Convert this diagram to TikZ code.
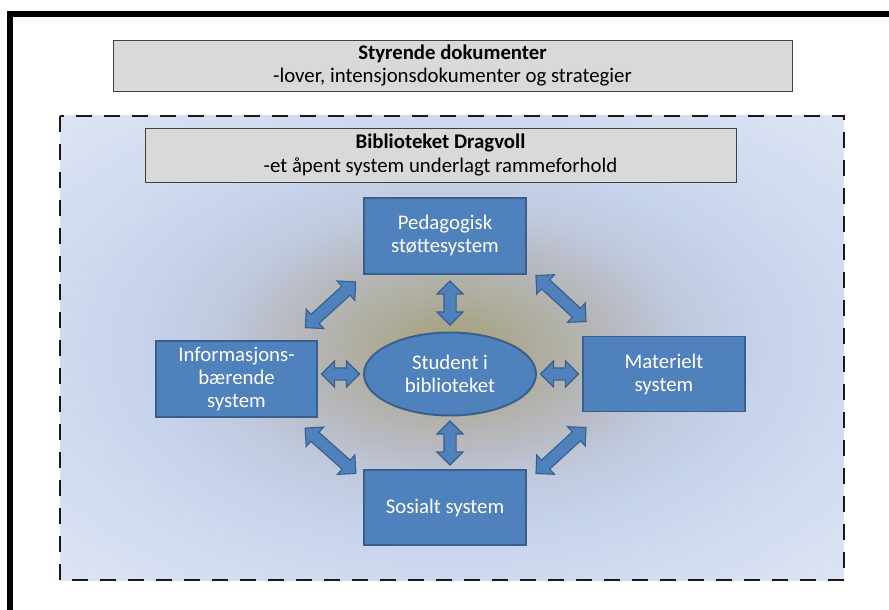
\documentclass[tikz,border=0pt]{standalone}
\usepackage{fontspec}
\setmainfont{Carlito}
\usepackage{xcolor}
\usepackage{tikz}
\usetikzlibrary{shapes.geometric, shapes.arrows, positioning}

\definecolor{sysblue}{HTML}{4F81BD}
\definecolor{sysline}{HTML}{3A5F8C}
\definecolor{docgray}{HTML}{D9D9D9}
\definecolor{glowC}{HTML}{A8A486}
\definecolor{glowG}{HTML}{B8BBC3}
\definecolor{glowM}{HTML}{C0C9DE}
\definecolor{glowB}{HTML}{C6D3EC}
\definecolor{glowL}{HTML}{D2DCF0}
\definecolor{glowE}{HTML}{DFE5F3}
\pgfdeclareradialshading{glow}{\pgfpoint{0bp}{0bp}}{color(0bp)=(glowC); color(2bp)=(glowC); color(11bp)=(glowG); color(15bp)=(glowM); color(20bp)=(glowB); color(27bp)=(glowL); color(37bp)=(glowE); color(100bp)=(glowE)}

\begin{document}
\begin{tikzpicture}[node distance=1.2cm, font=\fontsize{14.8}{16.4}\selectfont]
    \tikzstyle{docblock} = [draw=black!75, rectangle, fill=docgray, align=center, line width=0.6pt]
    \tikzstyle{sysblock} = [draw=sysline, rectangle, fill=sysblue, text=white, align=center, minimum width=4.05cm, minimum height=1.9cm, line width=1.4pt]
    \tikzstyle{link} = [draw=sysline, fill=sysblue, double arrow, double arrow head extend=0.175cm, inner xsep=0pt, inner ysep=0.1375cm, line width=0.8pt]

    \useasboundingbox (0,0) rectangle (22.225,-15.25);
    \draw[line width=4.3pt] (0.2575,-16) -- (0.2575,-0.3425) -- (23,-0.3425);
    \shade[shading=glow] (1.5,-2.9) rectangle (21.1,-14.5);
    \draw[line width=2.1pt, black!90, dash pattern=on 0.4cm off 0.3cm] (1.5,-2.9) rectangle (21.1,-14.5);

    \node[docblock, minimum width=16.975cm, minimum height=1.275cm] (styr) at (11.3125,-1.6375) {\textbf{Styrende dokumenter}\\-lover, intensjonsdokumenter og strategier};
    \node[docblock, minimum width=14.775cm, minimum height=1.35cm] (bib) at (11.0125,-3.875) {\textbf{Biblioteket Dragvoll}\\-et åpent system underlagt rammeforhold};

    \node[ellipse, draw=sysline, fill=sysblue, text=white, align=center, minimum width=4.3cm, minimum height=2.075cm, line width=1.4pt] (student) at (11.25,-9.35) {Student i\\biblioteket};
    \node[sysblock, above=1.425cm of student, xshift=-0.125cm] (ped) {Pedagogisk\\støttesystem};
    \node[sysblock, below=1.325cm of student, xshift=-0.125cm, minimum height=1.875cm] (sos) {Sosialt system};
    \node[sysblock, left=1.125cm of student, yshift=-0.125cm, minimum width=4.025cm] (info) {Informasjons-\\bærende\\system};
    \node[sysblock, right=1.125cm of student, minimum height=1.875cm] (mat) {Materielt\\system};

    \path (student.north) -- (student.north |- ped.south) node[link, midway, sloped, minimum height=1.1cm] (a1) {};
    \path (student.south) -- (student.south |- sos.north) node[link, midway, sloped, minimum height=1.1cm] (a2) {};
    \path (student.west) -- (student.west -| info.east) node[link, midway, sloped, minimum height=0.95cm] (a3) {};
    \path (student.east) -- (student.east -| mat.west) node[link, midway, sloped, minimum height=0.95cm] (a4) {};
    \path ([xshift=-0.325cm,yshift=0.3cm]info.north east) -- ([xshift=-0.175cm,yshift=-0.175cm]ped.south west) node[link, midway, sloped, minimum height=1.7cm] (a5) {};
    \path ([xshift=0.225cm,yshift=-0.025cm]ped.south east) -- ([xshift=0.1cm,yshift=0.35cm]mat.north west) node[link, midway, sloped, minimum height=1.7cm] (a6) {};
    \path ([xshift=-0.325cm,yshift=-0.25cm]info.south east) -- ([xshift=-0.175cm,yshift=-0.1cm]sos.north west) node[link, midway, sloped, minimum height=1.7cm] (a7) {};
    \path ([xshift=0.225cm,yshift=-0.1cm]sos.north east) -- ([xshift=0.1cm,yshift=-0.375cm]mat.south west) node[link, midway, sloped, minimum height=1.7cm] (a8) {};
\end{tikzpicture}
\end{document}
